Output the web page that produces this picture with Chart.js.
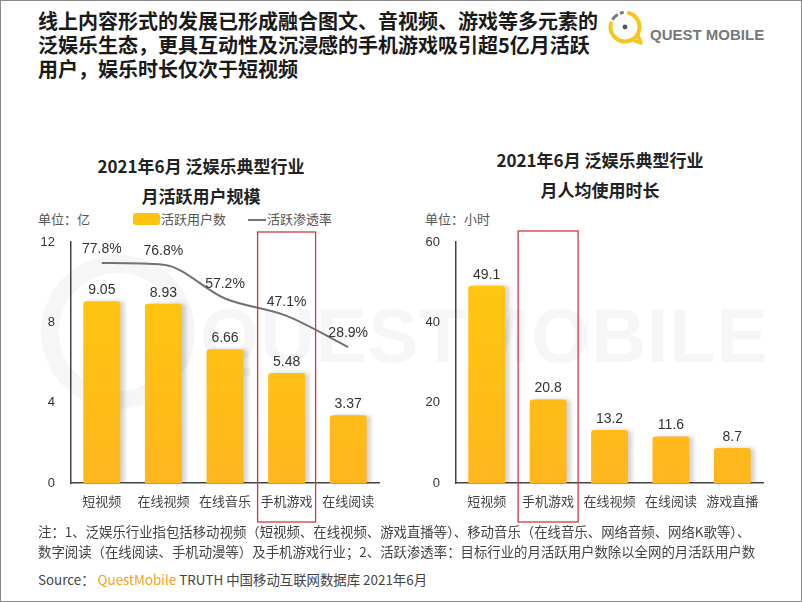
<!DOCTYPE html>
<html>
<head>
<meta charset="utf-8">
<script src="https://cdn.jsdelivr.net/npm/chart.js@4.4.0/dist/chart.umd.min.js"></script>
<style>
  html, body { margin: 0; padding: 0; background: #fff; }
  #page { position: relative; width: 802px; height: 602px; overflow: hidden; font-family: "Noto Sans CJK SC", sans-serif; color: #333; }
  #frame { position: absolute; left: 0; top: 0; width: 800px; height: 600px; border: 1px solid #888; pointer-events: none; }
  .abs { position: absolute; white-space: nowrap; }
  .title { left: 38px; top: 9px; font-size: 20px; line-height: 24px; font-weight: 700; color: #1a1a1a; }
  .ctitle { font-size: 17px; font-weight: 700; color: #222; text-align: center; width: 300px; line-height: 30px; }
  .small { font-size: 13px; color: #555; }
  .note { left: 38px; font-size: 13.4px; color: #444; line-height: 20px; }
  canvas { position: absolute; }
  .wm { position: absolute; left: 200px; top: 292px; font-family: "Liberation Sans", Arial, sans-serif; font-weight: 700; font-size: 76px; color: rgba(0,0,0,0.035); letter-spacing: 1px; }
</style>
</head>
<body>
<div id="page">
  <svg class="abs" style="left:0;top:0" width="802" height="602">
    <circle cx="118" cy="332" r="68" fill="none" stroke="rgba(0,0,0,0.035)" stroke-width="18"/>
  </svg>
  <div class="wm">QUESTMOBILE</div>

  <div class="abs title">线上内容形式的发展已形成融合图文、音视频、游戏等多元素的<br>泛娱乐生态，更具互动性及沉浸感的手机游戏吸引超5亿月活跃<br>用户，娱乐时长仅次于短视频</div>

  <svg class="abs" style="left:604px;top:7px" width="46" height="42">
    <path d="M 24.75 6 A 14.5 14.5 0 1 1 7 16.25" fill="none" stroke="#F7C51E" stroke-width="4" stroke-linecap="round"/>
    <path d="M 33.56 27.25 L 37 36 L 28.25 32.56" fill="none" stroke="#F7C51E" stroke-width="3.5" stroke-linejoin="round" stroke-linecap="round"/>
    <path d="M 19.7 5.6 A 14.5 14.5 0 0 0 16 6.4" fill="none" stroke="#777" stroke-width="3"/>
    <path d="M 13.75 7.44 A 14.5 14.5 0 0 0 8.44 12.75" fill="none" stroke="#777" stroke-width="3"/>
    <circle cx="21" cy="20" r="2.4" fill="#555"/>
  </svg>
  <div class="abs" style="left:650px;top:26px;font-family:'Liberation Sans',Arial,sans-serif;font-weight:700;font-size:15px;color:#777;">QUEST MOBILE</div>

  <div class="abs ctitle" style="left:51px;top:151px">2021年6月 泛娱乐典型行业<br>月活跃用户规模</div>
  <div class="abs ctitle" style="left:450px;top:145px">2021年6月 泛娱乐典型行业<br>月人均使用时长</div>

  <div class="abs small" style="left:38px;top:209px">单位：亿</div>
  <div class="abs" style="left:133px;top:213px;width:27px;height:12px;background:#FFC20E;border-radius:3px"></div>
  <div class="abs small" style="left:161px;top:209px">活跃用户数</div>
  <div class="abs" style="left:248px;top:219px;width:18px;height:2px;background:#777"></div>
  <div class="abs small" style="left:267px;top:209px">活跃渗透率</div>

  <div class="abs small" style="left:425px;top:209px">单位：小时</div>

  <canvas id="mauChart" width="370" height="305" style="left:20px;top:225px"></canvas>
  <canvas id="timeChart" width="375" height="305" style="left:400px;top:225px"></canvas>

  <div class="abs note" style="top:521px">注：1、泛娱乐行业指包括移动视频（短视频、在线视频、游戏直播等）、移动音乐（在线音乐、网络音频、网络K歌等）、<br>数字阅读（在线阅读、手机动漫等）及手机游戏行业；2、活跃渗透率：目标行业的月活跃用户数除以全网的月活跃用户数</div>
  <div class="abs note" style="top:569px">Source： <span style="color:#F5A21B">QuestMobile</span> TRUTH 中国移动互联网数据库 2021年6月</div>
  <div id="frame"></div>
</div>

<script>
// 左图：月活跃用户规模（亿）与活跃渗透率
const mauCategories = ['短视频', '在线视频', '在线音乐', '手机游戏', '在线阅读'];
const mauValues = [9.05, 8.93, 6.66, 5.48, 3.37];
const penetrationRates = [77.8, 76.8, 57.2, 47.1, 28.9];
const mauTicks = [0, 4, 8, 12];

// 右图：月人均使用时长（小时）
const timeCategories = ['短视频', '手机游戏', '在线视频', '在线阅读', '游戏直播'];
const timeValues = [49.1, 20.8, 13.2, 11.6, 8.7];
const timeTicks = [0, 20, 40, 60];

const numFont = '"Liberation Sans", Arial, sans-serif';
const cjkFont = '"Noto Sans CJK SC", sans-serif';

function barGradient(context) {
  const area = context.chart.chartArea;
  if (!area) return '#FFC20E';
  const g = context.chart.ctx.createLinearGradient(0, area.top, 0, area.bottom);
  g.addColorStop(0, '#FFC90C');
  g.addColorStop(1, '#FFB61E');
  return g;
}

const barShadow = {
  id: 'barShadow',
  beforeDatasetDraw(chart, args) {
    if (chart.getDatasetMeta(args.index).type !== 'bar') return;
    const c = chart.ctx;
    c.save();
    c.shadowColor = 'rgba(0,0,0,0.18)';
    c.shadowBlur = 4;
    c.shadowOffsetX = 4;
    c.shadowOffsetY = 0;
  },
  afterDatasetDraw(chart, args) {
    if (chart.getDatasetMeta(args.index).type !== 'bar') return;
    chart.ctx.restore();
  }
};

const valueLabels = {
  id: 'valueLabels',
  afterDatasetsDraw(chart) {
    const c = chart.ctx;
    c.save();
    c.font = '14px ' + numFont;
    c.fillStyle = '#333';
    c.textAlign = 'center';
    c.textBaseline = 'middle';
    chart.data.datasets.forEach((ds, i) => {
      const meta = chart.getDatasetMeta(i);
      const isLine = meta.type === 'line';
      meta.data.forEach((el, j) => {
        const v = ds.data[j];
        const txt = isLine ? v.toFixed(1) + '%' : String(v);
        c.fillText(txt, el.x, el.y - (isLine ? 14 : 11));
      });
    });
    c.restore();
  }
};

const highlightBox = {
  id: 'highlightBox',
  afterDraw(chart, args, opts) {
    const x = chart.scales.x.getPixelForValue(opts.index);
    const c = chart.ctx;
    c.save();
    c.strokeStyle = '#D0393F';
    c.lineWidth = 1.3;
    c.strokeRect(x - opts.half, opts.top, opts.half * 2, opts.bottom - opts.top);
    c.restore();
  }
};

function axes(ticks, yWidth) {
  return {
    x: {
      grid: { display: false, drawTicks: false },
      border: { display: true, color: '#444', width: 1.5 },
      ticks: { color: '#444', font: { family: cjkFont, size: 13 }, padding: 10, maxRotation: 0 },
      afterFit(scale) { scale.height = 47; }
    },
    y: {
      min: ticks[0],
      max: ticks[ticks.length - 1],
      afterBuildTicks(scale) { scale.ticks = ticks.map(v => ({ value: v })); },
      grid: { display: false, drawTicks: false },
      border: { display: true, color: '#444', width: 1.5 },
      ticks: { color: '#333', font: { family: numFont, size: 13 }, padding: 16 },
      afterFit(scale) {
        scale.width = yWidth;
        scale.paddingTop = 0;
        scale.paddingBottom = 0;
      }
    }
  };
}

const mauScales = axes(mauTicks, 51);
mauScales.y1 = { display: false, min: -50, max: 90 };

new Chart(document.getElementById('mauChart'), {
  type: 'bar',
  data: {
    labels: mauCategories,
    datasets: [
      {
        type: 'line',
        label: '活跃渗透率',
        data: penetrationRates,
        yAxisID: 'y1',
        borderColor: '#727272',
        borderWidth: 2,
        pointRadius: 0,
        cubicInterpolationMode: 'monotone',
        order: 0
      },
      {
        label: '活跃用户数',
        data: mauValues,
        backgroundColor: barGradient,
        borderRadius: 3,
        borderSkipped: 'bottom',
        categoryPercentage: 1,
        barPercentage: 0.6,
        order: 1
      }
    ]
  },
  options: {
    responsive: false,
    animation: false,
    layout: { padding: { top: 17, right: 11, left: 0, bottom: 0 } },
    plugins: {
      legend: { display: false },
      tooltip: { enabled: false },
      highlightBox: { index: 3, half: 29, top: 7, bottom: 297 }
    },
    scales: mauScales
  },
  plugins: [barShadow, valueLabels, highlightBox]
});

new Chart(document.getElementById('timeChart'), {
  type: 'bar',
  data: {
    labels: timeCategories,
    datasets: [{
      label: '月人均使用时长',
      data: timeValues,
      backgroundColor: barGradient,
      borderRadius: 3,
      borderSkipped: 'bottom',
      categoryPercentage: 1,
      barPercentage: 0.6
    }]
  },
  options: {
    responsive: false,
    animation: false,
    layout: { padding: { top: 17, right: 12, left: 0, bottom: 0 } },
    plugins: {
      legend: { display: false },
      tooltip: { enabled: false },
      highlightBox: { index: 1, half: 30, top: 6, bottom: 297 }
    },
    scales: axes(timeTicks, 56)
  },
  plugins: [barShadow, valueLabels, highlightBox]
});
</script>
</body>
</html>
